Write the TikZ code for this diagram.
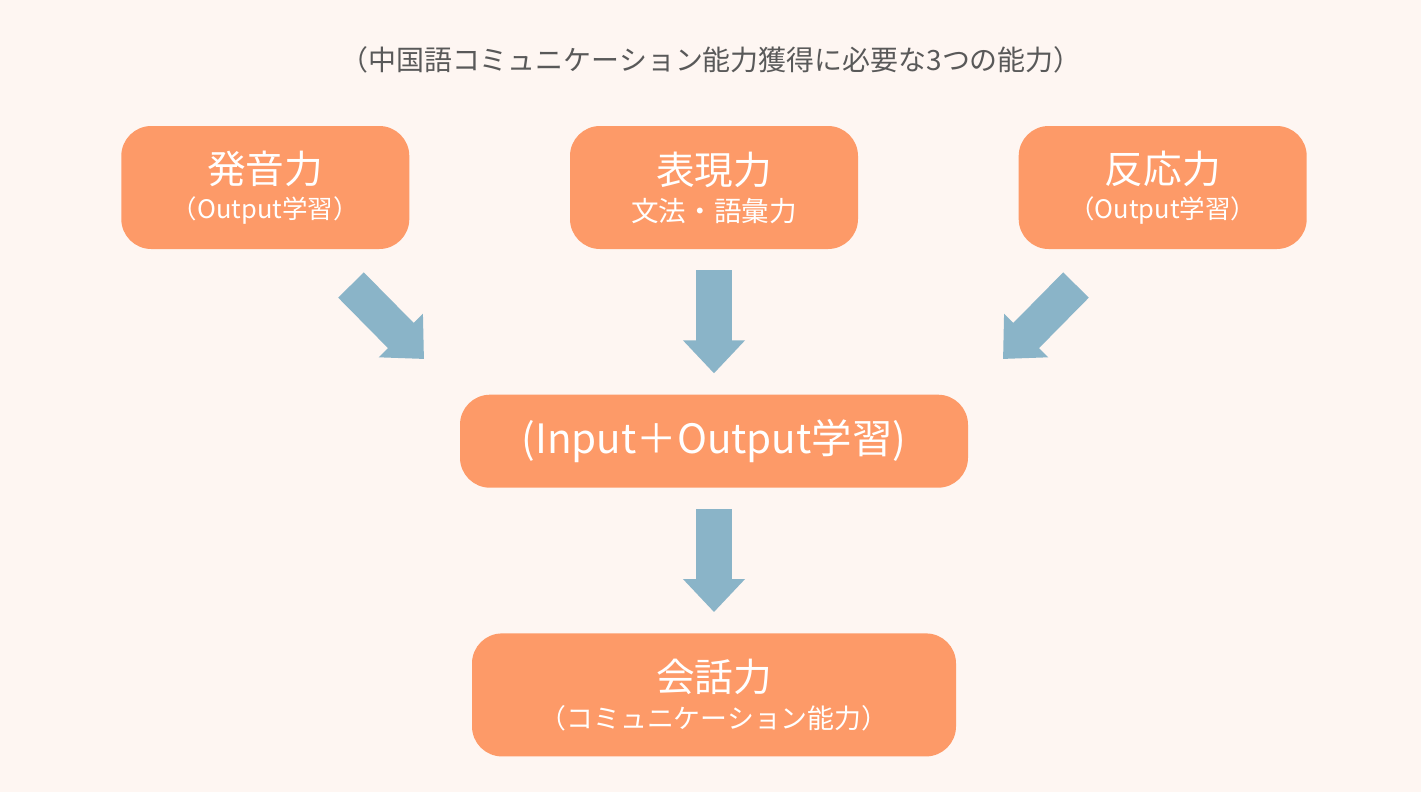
\documentclass[tikz,border=0pt]{standalone}
\usepackage{fontspec}
\setmainfont{Noto Sans CJK JP}
\usetikzlibrary{arrows.meta, positioning, calc}
\definecolor{jpbg}{HTML}{FEF6F2}
\definecolor{jporange}{HTML}{FD9A68}
\definecolor{jpblue}{HTML}{8AB4C8}
\definecolor{jpgray}{HTML}{595959}
\newcommand{\bigline}[1]{{\fontsize{22}{30}\selectfont #1}}
\newcommand{\smallline}[2][14.5]{{\fontsize{#1}{30}\selectfont #2}}

\begin{document}
\begin{tikzpicture}[
    box/.style={rectangle, rounded corners=0.6cm, fill=jporange, text=white,
                minimum width=5.76cm, minimum height=2.46cm, align=center, inner sep=0pt},
    fatarrow/.style={-{Triangle[length=0.66cm, width=1.2cm]}, line width=0.72cm, jpblue}
  ]
    \fill[jpbg] (0,0) rectangle (28.42,-15.84);
    \useasboundingbox (0,0) rectangle (28.42,-15.84);
    \node[text=jpgray, font=\fontsize{15.9}{18}\selectfont] (title) at (14.22,-1.2) {（中国語コミュニケーション能力獲得に必要な3つの能力）};
    \node[box] (b2) at (14.28,-3.75) {\bigline{表現力}\\[5pt]\smallline[15.7]{文法・語彙力}};
    \node[box, left=3.2cm of b2] (b1) {\bigline{発音力}\\[5pt]\smallline{（Output学習）}};
    \node[box, right=3.2cm of b2] (b3) {\bigline{反応力}\\[5pt]\smallline{（Output学習）}};
    \node[box, minimum width=10.16cm, minimum height=1.86cm, below=2.9cm of b2] (mid) {{\fontsize{23}{30}\selectfont (Input＋Output学習)}};
    \node[box, minimum width=9.68cm, below=2.9cm of mid] (talk) {\bigline{会話力}\\[5pt]\smallline[15.3]{（コミュニケーション能力）}};
    \coordinate (l1) at (7.02,-5.70);
    \coordinate (l2) at (8.48,-7.18);
    \coordinate (r1) at (21.52,-5.70);
    \coordinate (r2) at (20.06,-7.18);
    \draw[fatarrow] (l1) -- (l2);
    \draw[fatarrow] (r1) -- (r2);
    \draw[fatarrow, shorten <=0.42cm, shorten >=0.42cm] (b2.south) -- (b2.south |- mid.north);
    \draw[fatarrow, shorten <=0.42cm, shorten >=0.42cm] (mid.south) -- (mid.south |- talk.north);
\end{tikzpicture}
\end{document}
